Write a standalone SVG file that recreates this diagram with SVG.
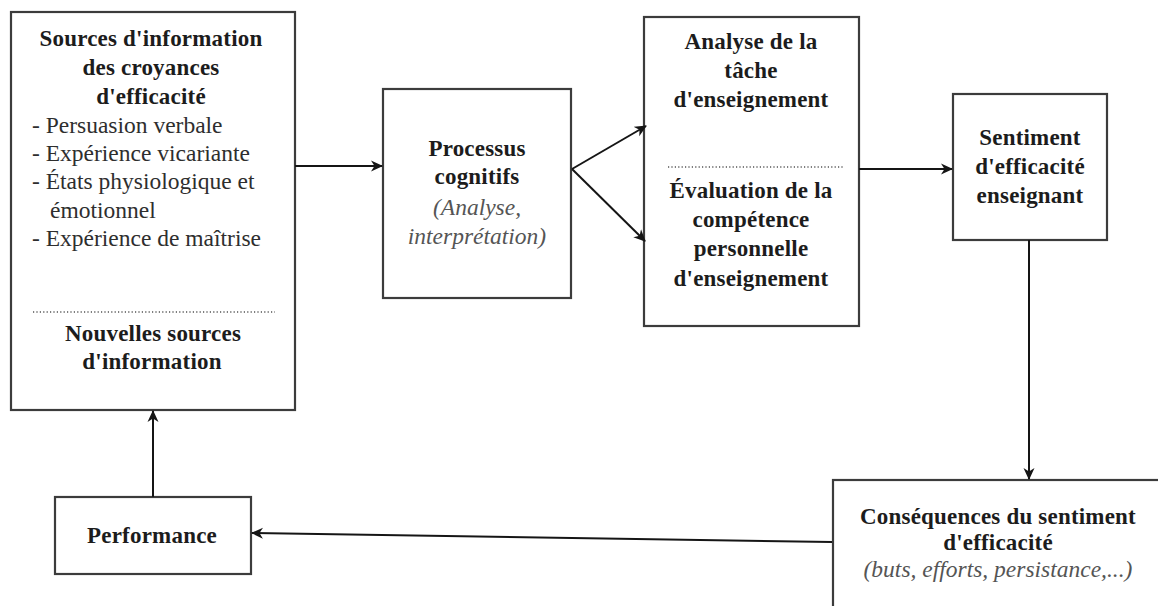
<svg xmlns="http://www.w3.org/2000/svg" width="1158" height="606" viewBox="0 0 1158 606">
  <style>
    .box { fill: #ffffff; stroke: #3c3c3c; stroke-width: 2.2; }
    .dots { stroke: #555555; stroke-width: 1.6; stroke-dasharray: 1.2 2.2; fill: none; }
    .link { stroke: #151515; stroke-width: 2; fill: none; marker-end: url(#arrow); }
    text { font-family: "Liberation Serif", "Times New Roman", serif; font-size: 23px; }
    .b { font-weight: bold; fill: #1c1c1c; text-anchor: middle; letter-spacing: 0.2px; }
    .r { fill: #2e2e2e; font-size: 23.5px; }
    .i { font-style: italic; fill: #555555; text-anchor: middle; font-size: 23.5px; }
  </style>
  <defs>
    <marker id="arrow" markerUnits="userSpaceOnUse" markerWidth="13" markerHeight="12" refX="11" refY="6" orient="auto">
      <path d="M0,0.5 L12,6 L0,11.5 L3.5,6 Z" fill="#151515"/>
    </marker>
  </defs>

  <rect width="1158" height="606" fill="#ffffff"/>

  <!-- Sources of efficacy information -->
  <g id="sources">
    <rect class="box" x="11" y="12" width="284" height="398"/>
    <text class="b" x="151" y="46">Sources d'information</text>
    <text class="b" x="151" y="75">des croyances</text>
    <text class="b" x="151" y="104">d'efficacité</text>
    <text class="r" x="32" y="133">- Persuasion verbale</text>
    <text class="r" x="32" y="161">- Expérience vicariante</text>
    <text class="r" x="32" y="189">- États physiologique et</text>
    <text class="r" x="50" y="218">émotionnel</text>
    <text class="r" x="32" y="246">- Expérience de maîtrise</text>
    <line class="dots" x1="33" y1="312" x2="275" y2="312"/>
    <text class="b" x="153" y="341">Nouvelles sources</text>
    <text class="b" x="152" y="369">d'information</text>
  </g>

  <!-- Cognitive processing -->
  <g id="processus">
    <rect class="box" x="383" y="89" width="188" height="209"/>
    <text class="b" x="477" y="156">Processus</text>
    <text class="b" x="477" y="184">cognitifs</text>
    <text class="i" x="477" y="215">(Analyse,</text>
    <text class="i" x="477" y="244">interprétation)</text>
  </g>

  <!-- Task analysis / competence evaluation -->
  <g id="analyse">
    <rect class="box" x="644" y="17" width="215" height="309"/>
    <text class="b" x="751" y="49">Analyse de la</text>
    <text class="b" x="751" y="78">tâche</text>
    <text class="b" x="751" y="107">d'enseignement</text>
    <line class="dots" x1="668" y1="167" x2="843" y2="167"/>
    <text class="b" x="751" y="198">Évaluation de la</text>
    <text class="b" x="751" y="227">compétence</text>
    <text class="b" x="751" y="256">personnelle</text>
    <text class="b" x="751" y="286">d'enseignement</text>
  </g>

  <!-- Teacher efficacy -->
  <g id="sentiment">
    <rect class="box" x="953" y="94" width="154" height="146"/>
    <text class="b" x="1030" y="145">Sentiment</text>
    <text class="b" x="1030" y="174">d'efficacité</text>
    <text class="b" x="1030" y="203">enseignant</text>
  </g>

  <!-- Consequences -->
  <g id="consequences">
    <rect class="box" x="833" y="480" width="340" height="150"/>
    <text class="b" x="998" y="524">Conséquences du sentiment</text>
    <text class="b" x="998" y="550">d'efficacité</text>
    <text class="i" x="998" y="577">(buts, efforts, persistance,...)</text>
  </g>

  <!-- Performance -->
  <g id="performance">
    <rect class="box" x="55" y="497" width="196" height="77"/>
    <text class="b" x="152" y="543">Performance</text>
  </g>

  <!-- Connectors -->
  <g id="connectors">
    <line class="link" x1="295" y1="166" x2="382" y2="166"/>
    <line class="link" x1="572" y1="169" x2="646" y2="126"/>
    <line class="link" x1="572" y1="169" x2="645" y2="241"/>
    <line class="link" x1="859" y1="169" x2="952" y2="169"/>
    <line class="link" x1="1029" y1="240" x2="1029" y2="479"/>
    <line class="link" x1="832" y1="542" x2="252" y2="533"/>
    <line class="link" x1="153" y1="497" x2="153" y2="411"/>
  </g>
</svg>
